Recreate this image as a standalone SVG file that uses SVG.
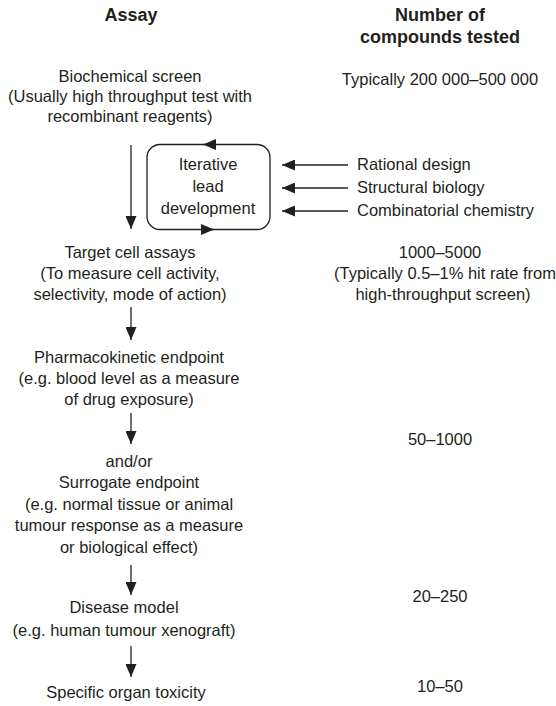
<svg xmlns="http://www.w3.org/2000/svg" width="556" height="706" viewBox="0 0 556 706">
  <style>
    .t { font-family: "Liberation Sans", Arial, sans-serif; font-size: 16.5px; fill: #231f20; }
    .c { text-anchor: middle; }
    .h { font-family: "Liberation Sans", Arial, sans-serif; font-size: 18px; font-weight: bold; fill: #231f20; text-anchor: middle; }
    .ln { stroke: #231f20; stroke-width: 1.3; fill: none; }
  </style>
  <defs>
    <marker id="ah" markerUnits="userSpaceOnUse" markerWidth="13" markerHeight="11" refX="13" refY="5.5" orient="auto">
      <path d="M0,0 L13,5.5 L0,11 Z" fill="#231f20"/>
    </marker>
  </defs>
  <rect width="556" height="706" fill="#ffffff"/>

  <g id="headers">
    <text class="h" x="131" y="21">Assay</text>
    <text class="h" x="440" y="21">Number of</text>
    <text class="h" x="440" y="43">compounds tested</text>
  </g>

  <g id="biochemical">
    <text class="t c" x="130" y="82">Biochemical screen</text>
    <text class="t c" x="130" y="102">(Usually high throughput test with</text>
    <text class="t c" x="130" y="122">recombinant reagents)</text>
  </g>
  <g id="n-biochemical">
    <text class="t c" x="440" y="85">Typically 200 000–500 000</text>
  </g>

  <g id="iterative">
    <rect class="ln" x="147" y="144.5" width="123" height="85" rx="13" ry="13"/>
    <text class="t c" x="208" y="170">Iterative</text>
    <text class="t c" x="208" y="192">lead</text>
    <text class="t c" x="208" y="214">development</text>
  </g>

  <g id="rational"><text class="t" x="357" y="170">Rational design</text></g>
  <g id="structural"><text class="t" x="357" y="193">Structural biology</text></g>
  <g id="combinatorial"><text class="t" x="357" y="216">Combinatorial chemistry</text></g>

  <g id="target">
    <text class="t c" x="130" y="258">Target cell assays</text>
    <text class="t c" x="130" y="279">(To measure cell activity,</text>
    <text class="t c" x="130" y="300">selectivity, mode of action)</text>
  </g>
  <g id="n-target">
    <text class="t c" x="440" y="258">1000–5000</text>
    <text class="t c" x="445" y="279">(Typically 0.5–1% hit rate from</text>
    <text class="t c" x="443" y="300">high-throughput screen)</text>
  </g>

  <g id="pharmacokinetic">
    <text class="t c" x="129" y="363">Pharmacokinetic endpoint</text>
    <text class="t c" x="129" y="384">(e.g. blood level as a measure</text>
    <text class="t c" x="129" y="405">of drug exposure)</text>
  </g>
  <g id="n-pk">
    <text class="t c" x="440" y="445">50–1000</text>
  </g>

  <g id="surrogate">
    <text class="t c" x="129" y="467">and/or</text>
    <text class="t c" x="129" y="488">Surrogate endpoint</text>
    <text class="t c" x="129" y="510">(e.g. normal tissue or animal</text>
    <text class="t c" x="129" y="531">tumour response as a measure</text>
    <text class="t c" x="129" y="553">or biological effect)</text>
  </g>

  <g id="disease">
    <text class="t c" x="124" y="613">Disease model</text>
    <text class="t c" x="124" y="636">(e.g. human tumour xenograft)</text>
  </g>
  <g id="n-disease">
    <text class="t c" x="440" y="602">20–250</text>
  </g>

  <g id="toxicity">
    <text class="t c" x="126" y="698">Specific organ toxicity</text>
  </g>
  <g id="n-toxicity">
    <text class="t c" x="440" y="692">10–50</text>
  </g>

  <g id="connectors">
    <line class="ln" x1="131" y1="145" x2="131" y2="229" marker-end="url(#ah)"/>
    <line class="ln" x1="216" y1="144.5" x2="203" y2="144.5" marker-end="url(#ah)"/>
    <line class="ln" x1="201" y1="229.5" x2="214" y2="229.5" marker-end="url(#ah)"/>
    <line class="ln" x1="348" y1="165" x2="282" y2="165" marker-end="url(#ah)"/>
    <line class="ln" x1="348" y1="188" x2="282" y2="188" marker-end="url(#ah)"/>
    <line class="ln" x1="348" y1="211" x2="282" y2="211" marker-end="url(#ah)"/>
    <line class="ln" x1="131" y1="307" x2="131" y2="340" marker-end="url(#ah)"/>
    <line class="ln" x1="131" y1="413" x2="131" y2="444" marker-end="url(#ah)"/>
    <line class="ln" x1="131" y1="565" x2="131" y2="595" marker-end="url(#ah)"/>
    <line class="ln" x1="131" y1="646" x2="131" y2="677" marker-end="url(#ah)"/>
  </g>
</svg>
